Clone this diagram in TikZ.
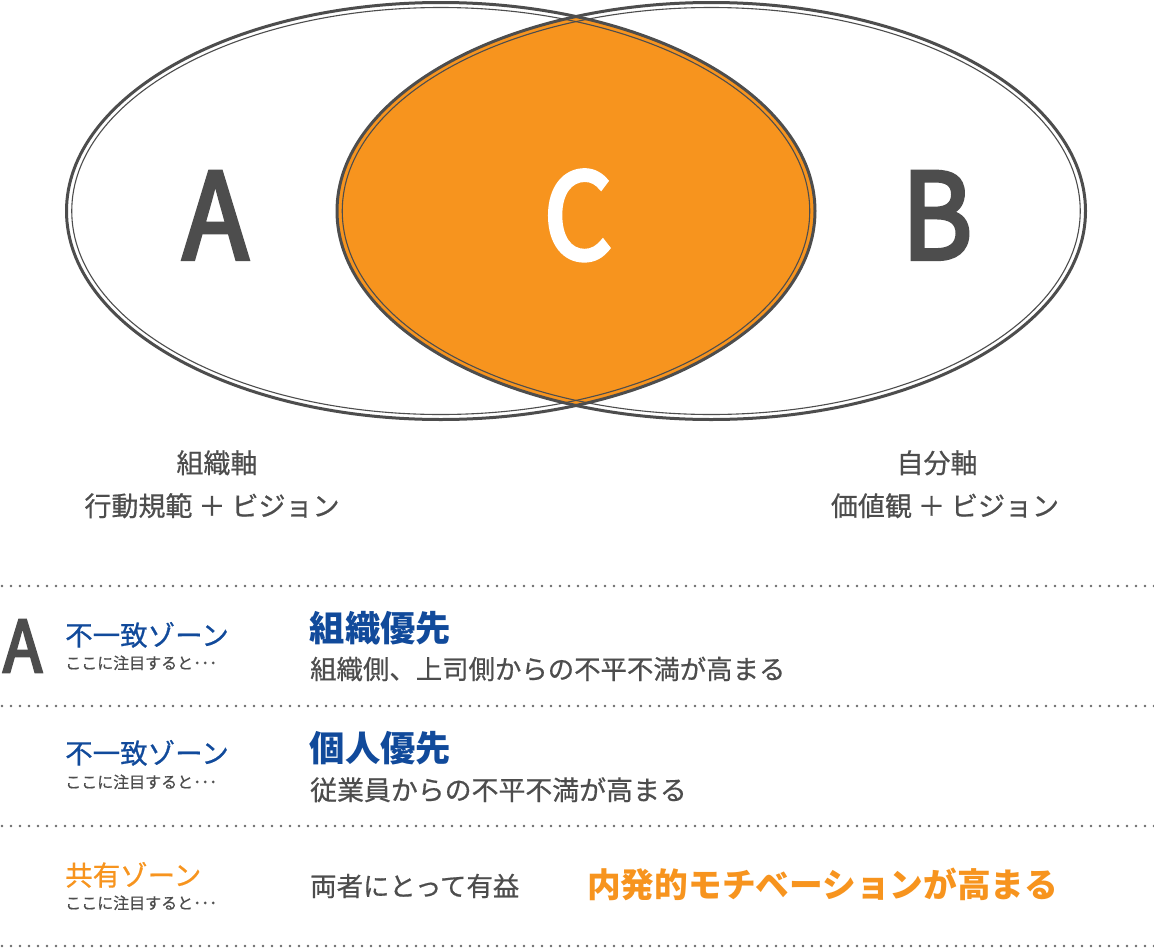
\documentclass[tikz,border=0pt]{standalone}
\usepackage{fontspec}
\setmainfont{Noto Sans CJK JP}[UprightFeatures={FakeBold=0.6}]
\newfontfamily\letterfont{Noto Sans CJK JP}[FakeStretch=0.9,FakeBold=3.5]
\definecolor{dgray}{HTML}{4D4D4D}
\definecolor{lorange}{HTML}{F7941E}
\definecolor{dblue}{HTML}{114A9B}
\definecolor{dotgray}{HTML}{6A6A6A}
\begin{document}
\begin{tikzpicture}[x=1pt,y=-1pt,
  outerline/.style={draw=dgray,line width=3pt},
  innerline/.style={draw=dgray,line width=1.1pt},
  dotline/.style={draw=dotgray,line width=2.6pt,line cap=round,dash pattern=on 0pt off 9pt},
  bigletter/.style={inner sep=0pt,anchor=base,font=\letterfont\fontsize{119pt}{119pt}\selectfont},
  axislabel/.style={inner sep=0pt,anchor=base,text=dgray,font=\fontsize{27pt}{30pt}\selectfont},
  zonetitle/.style={inner sep=0pt,anchor=base west,font=\fontsize{27.5pt}{30pt}\selectfont},
  zonenote/.style={inner sep=0pt,anchor=base west,text=dgray,font=\fontsize{16pt}{18pt}\selectfont},
  headline/.style={inner sep=0pt,anchor=base west,text=dblue,font=\bfseries\fontsize{35.3pt}{38pt}\selectfont},
  bodytext/.style={inner sep=0pt,anchor=base west,text=dgray,font=\fontsize{26.4pt}{30pt}\selectfont}
]
\useasboundingbox (0,0) rectangle (1154,948);
\fill[white] (0,0) rectangle (1154,948);
% lens fill
\begin{scope}
  \clip (440.75,211) ellipse [x radius=374.25pt, y radius=208.5pt];
  \fill[lorange] (711.25,211) ellipse [x radius=374.25pt, y radius=208.5pt];
\end{scope}
% outlines
\draw[outerline] (440.75,211) ellipse [x radius=374.25pt, y radius=208.5pt];
\draw[innerline] (440.75,211) ellipse [x radius=369pt, y radius=203.5pt];
\draw[outerline] (711.25,211) ellipse [x radius=374.25pt, y radius=208.5pt];
\draw[innerline] (711.25,211) ellipse [x radius=369pt, y radius=203.5pt];
% letters
\node[bigletter,text=dgray] (lA) at (215.5,259) {A};
\node[bigletter,text=white] (lC) at (578,259) {C};
\node[bigletter,text=dgray] (lB) at (937,259) {B};
% axis labels
\node[axislabel] (ax1) at (217,473) {組織軸};
\node[axislabel] (ax2) at (212,516) {行動規範 ＋ ビジョン};
\node[axislabel] (bx1) at (937,473) {自分軸};
\node[axislabel] (bx2) at (945,516) {価値観 ＋ ビジョン};
% dotted separators
\coordinate (d1a) at (2,586); \coordinate (d1b) at (1154,586);
\coordinate (d2a) at (2,706); \coordinate (d2b) at (1154,706);
\coordinate (d3a) at (2,826); \coordinate (d3b) at (1154,826);
\coordinate (d4a) at (2,946); \coordinate (d4b) at (1154,946);
\draw[dotline] (d1a) -- (d1b);
\draw[dotline] (d2a) -- (d2b);
\draw[dotline] (d3a) -- (d3b);
\draw[dotline] (d4a) -- (d4b);
% row 1
\node[inner sep=0pt,anchor=base west,text=dgray,font=\letterfont\fontsize{71pt}{71pt}\selectfont] (rA) at (3,672) {A};
\node[zonetitle,text=dblue] (z1) at (65,645.5) {不一致ゾーン};
\node[zonenote] (n1) at (65,669) {ここに注目すると･･･};
\node[headline] (h1) at (309.5,641) {組織優先};
\node[bodytext] (b1) at (310,679) {組織側、上司側からの不平不満が高まる};
% row 2
\node[zonetitle,text=dblue] (z2) at (65,763.5) {不一致ゾーン};
\node[zonenote] (n2) at (65,788) {ここに注目すると･･･};
\node[headline] (h2) at (309.5,761) {個人優先};
\node[bodytext,font=\fontsize{26.9pt}{30pt}\selectfont] (b2) at (310,800) {従業員からの不平不満が高まる};
% row 3
\node[zonetitle,text=lorange] (z3) at (65,885.5) {共有ゾーン};
\node[zonenote] (n3) at (65,909) {ここに注目すると･･･};
\node[bodytext] (b3) at (310,896) {両者にとって有益};
\node[headline,text=lorange,font=\bfseries\fontsize{33.7pt}{38pt}\selectfont] (h3) at (587,897) {内発的モチベーションが高まる};
\end{tikzpicture}
\end{document}
